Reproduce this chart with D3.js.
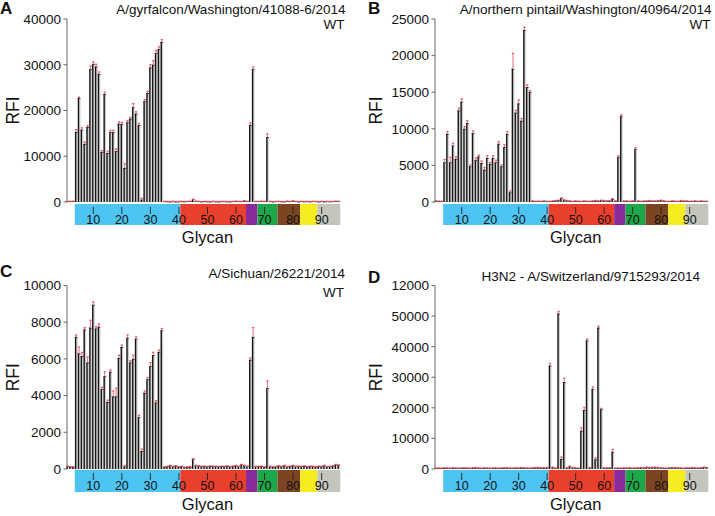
<!DOCTYPE html>
<html><head><meta charset="utf-8">
<script src="https://cdn.jsdelivr.net/npm/d3@7"></script>
<style>
body{margin:0;background:#fff}
svg{display:block}
text{font-family:Arial,"Liberation Sans",Helvetica,sans-serif;fill:#111}
</style>
</head><body>
<svg id="c" width="715" height="516"></svg>
<script>
// ---------- DATA ----------
const xTickValues = [10,20,30,40,50,60,70,80,90];
const groupStart = [4,41,64,68,75,83,89];
const groupEnd   = [40,63,67,74,82,88,96];
const groupColor = ["#4dc4f2","#e8402c","#8a2b9c","#1ea64b","#7a4520","#f4ec1e","#c4c6bd"];

const titles = ["A/gyrfalcon/Washington/41088-6/2014","A/northern pintail/Washington/40964/2014","A/Sichuan/26221/2014","H3N2 - A/Switzerland/9715293/2014"];
const subtitles = ["WT","WT","WT",""];
const letters = ["A","B","C","D"];

const yTicksA = [0,10000,20000,30000,40000];
const yTicksB = [0,5000,10000,15000,20000,25000];
const yTicksC = [0,2000,4000,6000,8000,10000];
const yTicksD = [0,10000,20000,30000,40000,50000,60000];
const yLabelsD = ["0","10000","20000","30000","40000","50000","12000"];

// RFI per glycan 1..96
const rfiA = [150,150,200,
 15300,22700,15800,12700,16400,29000,30100,29600,28000,10900,23600,10700,15250,15250,11100,17100,17000,7450,17400,18200,20700,19300,16800,500,22000,23800,29400,30000,32500,33400,35000,
 150,120,100,150,100,120,
 150,120,150,200,600,200,150,100,150,120,100,150,120,100,150,150,120,100,150,200,150,150,300,
 150,16800,29000,150,
 150,200,150,14200,150,100,150,
 150,120,100,200,150,250,150,100,
 150,120,150,100,150,150,
 100,150,100,150,120,150,200,150];
const rfiB = [150,120,100,
 5400,9300,5400,7700,5900,12500,13700,10000,10800,4860,9400,5700,6200,5300,4400,6000,5200,6000,5400,7950,4860,7500,9300,1300,18200,12200,13450,11100,23500,15700,15000,
 150,100,120,100,150,100,
 100,150,200,250,550,300,200,150,100,150,120,100,150,120,100,150,200,150,250,200,150,200,450,
 150,6100,11700,150,
 150,120,150,7200,150,100,150,
 150,200,150,150,200,250,150,100,
 100,150,120,100,200,150,
 150,100,120,150,100,150,120,100];
const rfiC = [150,130,120,
 7200,6300,6150,7600,5800,7700,8950,7650,7750,4350,5050,3650,5300,3950,3950,6050,6650,130,7150,5800,6000,7100,2820,980,4150,4880,5600,6200,3620,6380,7550,
 120,150,200,150,180,120,
 150,100,120,130,550,200,180,150,160,140,170,160,150,140,160,150,170,140,160,200,150,250,200,
 150,5950,7200,150,
 150,160,120,4400,150,120,140,
 180,150,200,140,160,200,150,160,
 150,170,140,160,150,130,
 160,150,200,140,150,180,250,220];
const rfiD = [300,350,300,400,350,300,400,350,300,350,
 400,350,300,400,500,350,300,400,350,300,
 350,400,300,350,400,450,350,300,400,350,
 450,400,350,300,400,450,500,400,450,500,
 33800,600,300,50800,3300,28400,400,900,500,400,300,12500,19300,42000,400,26100,3100,46200,19500,400,350,400,5600,
 300,350,300,400,
 350,400,300,350,400,500,400,
 600,500,550,600,500,400,350,300,
 400,500,450,400,350,300,
 400,350,450,400,350,450,600,500];

// error (SD) for glycans where it is visible: [glycan, err]
const errA = [[4,500],[5,200],[6,400],[7,400],[8,300],[9,700],[10,500],[11,500],[12,400],[13,300],[14,400],[15,400],[16,400],[17,400],[18,500],[19,400],[20,400],[21,900],[22,400],[23,300],[24,800],[25,400],[26,400],[27,300],[28,400],[29,400],[30,600],[31,900],[32,600],[33,500],[34,500],[65,500],[66,500],[71,700]];
const errB = [[4,400],[5,300],[6,700],[7,300],[8,300],[9,300],[10,400],[11,300],[12,300],[13,200],[14,300],[15,300],[16,200],[17,300],[18,300],[19,300],[20,200],[21,300],[22,300],[23,300],[24,200],[25,300],[26,300],[27,200],[28,2100],[29,300],[30,500],[31,300],[32,400],[33,300],[34,200],[65,200],[66,200],[71,200]];
const errC = [[4,100],[5,350],[6,200],[7,100],[8,300],[9,400],[10,150],[11,100],[12,150],[13,100],[14,250],[15,100],[16,100],[17,300],[18,450],[19,150],[20,100],[21,60],[22,150],[23,100],[24,200],[25,100],[26,100],[27,100],[28,100],[29,100],[30,200],[31,150],[32,100],[33,100],[34,100],[65,100],[66,500],[71,400]];
const errD = [[41,700],[44,700],[45,600],[46,1300],[52,1000],[53,800],[54,500],[56,700],[57,500],[58,500],[59,300],[63,800]];

// ---------- LAYOUT ----------
const panels = [
 {vals:rfiA, errs:errA, ticks:yTicksA, labels:null, ax:67, xr:[66.2,340.2], yr:[202,19], band:[204,225], tickTop:207, tickBot:214, tickLbl:224, glyY:243, rfiX:18.5, letX:0, letY:13.5, tEnd:345.5, tY:14, sY:29},
 {vals:rfiB, errs:errB, ticks:yTicksB, labels:null, ax:435, xr:[434.6,708.2], yr:[202,19], band:[204,225], tickTop:207, tickBot:214, tickLbl:224, glyY:243, rfiX:382, letX:368, letY:13.5, tEnd:711.5, tY:14, sY:29},
 {vals:rfiC, errs:errC, ticks:yTicksC, labels:null, ax:67, xr:[66.2,340.2], yr:[469,285.5], band:[470,492], tickTop:473, tickBot:480, tickLbl:490, glyY:510, rfiX:18.5, letX:0, letY:277, tEnd:345, tY:278, sY:296.5},
 {vals:rfiD, errs:errD, ticks:yTicksD, labels:yLabelsD, ax:435, xr:[434.6,708.2], yr:[469,285.5], band:[470,492], tickTop:473, tickBot:480, tickLbl:490, glyY:510, rfiX:382, letX:368, letY:283, tEnd:700, tY:280.7, sY:0}
];

const svg = d3.select("#c");

panels.forEach((p,k)=>{
  const g = svg.append("g");
  const x = d3.scaleLinear().domain([0.5,96.5]).range(p.xr);
  const yMax = p.ticks[p.ticks.length-1];
  const y = d3.scaleLinear().domain([0,yMax]).range(p.yr);
  const w = x(1.5)-x(0.5);

  // colored glycan group band
  groupStart.forEach((s,i)=>{
    g.append("rect").attr("x",x(s-0.5)).attr("y",p.band[0])
      .attr("width",x(groupEnd[i]+0.5)-x(s-0.5)).attr("height",p.band[1]-p.band[0])
      .attr("fill",groupColor[i]);
  });
  // x ticks and labels
  xTickValues.forEach(t=>{
    g.append("line").attr("x1",x(t)).attr("x2",x(t)).attr("y1",p.tickTop).attr("y2",p.tickBot)
      .attr("stroke","#222").attr("stroke-width",0.9);
    g.append("text").attr("x",x(t)).attr("y",p.tickLbl).attr("text-anchor","middle")
      .attr("font-size",12.5).text(t);
  });

  // y axis
  g.append("line").attr("x1",p.ax).attr("x2",p.ax).attr("y1",y(yMax)).attr("y2",y(0))
    .attr("stroke","#666").attr("stroke-width",1);
  p.ticks.forEach((t,i)=>{
    g.append("line").attr("x1",p.ax-3.5).attr("x2",p.ax).attr("y1",y(t)).attr("y2",y(t))
      .attr("stroke","#666").attr("stroke-width",1);
    g.append("text").attr("x",p.ax-6).attr("y",y(t)).attr("dy","0.36em").attr("text-anchor","end")
      .attr("font-size",13.5).text(p.labels ? p.labels[i] : t);
  });

  // bars: light grey body with dark left edge
  const data = p.vals.map((v,i)=>({g:i+1,v:v}));
  g.selectAll("rect.bar").data(data).enter().append("rect").attr("class","bar")
    .attr("x",d=>x(d.g)-w/2).attr("width",w)
    .attr("y",d=>y(d.v)).attr("height",d=>Math.max(0.8,y(0)-y(d.v)))
    .attr("fill","#cfcfcf");
  g.selectAll("rect.edge").data(data).enter().append("rect").attr("class","edge")
    .attr("x",d=>x(d.g)-w/2+0.2).attr("width",1.35)
    .attr("y",d=>y(d.v)).attr("height",d=>Math.max(0.8,y(0)-y(d.v)))
    .attr("fill","#151515");
  g.selectAll("rect.topl").data(data).enter().append("rect").attr("class","topl")
    .attr("x",d=>x(d.g)-w/2).attr("width",w)
    .attr("y",d=>y(d.v)).attr("height",0.7)
    .attr("fill","#151515");

  // error bars
  const errMap = new Map(p.errs);
  data.forEach(d=>{
    const e = errMap.get(d.g) || 0;
    const top = y(d.v+e);
    if (e>0) g.append("line").attr("x1",x(d.g)).attr("x2",x(d.g)).attr("y1",y(d.v)).attr("y2",top)
      .attr("stroke","#f0707c").attr("stroke-width",1);
    g.append("rect").attr("x",x(d.g)-1.1).attr("y",top-0.7).attr("width",2.2).attr("height",1.3)
      .attr("fill","#ee5566");
  });

  // axis titles
  g.append("text").attr("x",(x(3.5)+x(96.5))/2).attr("y",p.glyY).attr("text-anchor","middle")
    .attr("font-size",16.5).text("Glycan");
  g.append("text").attr("transform",`translate(${p.rfiX},${(p.yr[0]+p.yr[1])/2}) rotate(-90)`)
    .attr("text-anchor","middle").attr("font-size",17.5).text("RFI");

  // panel letter & titles
  g.append("text").attr("x",p.letX).attr("y",p.letY).attr("font-size",17).attr("font-weight","bold").text(letters[k]);
  g.append("text").attr("x",p.tEnd).attr("y",p.tY).attr("text-anchor","end").attr("font-size",13.5).text(titles[k]);
  if (subtitles[k]) g.append("text").attr("x",p.tEnd-1).attr("y",p.sY).attr("text-anchor","end").attr("font-size",13.5).text(subtitles[k]);
});
</script>
</body></html>
